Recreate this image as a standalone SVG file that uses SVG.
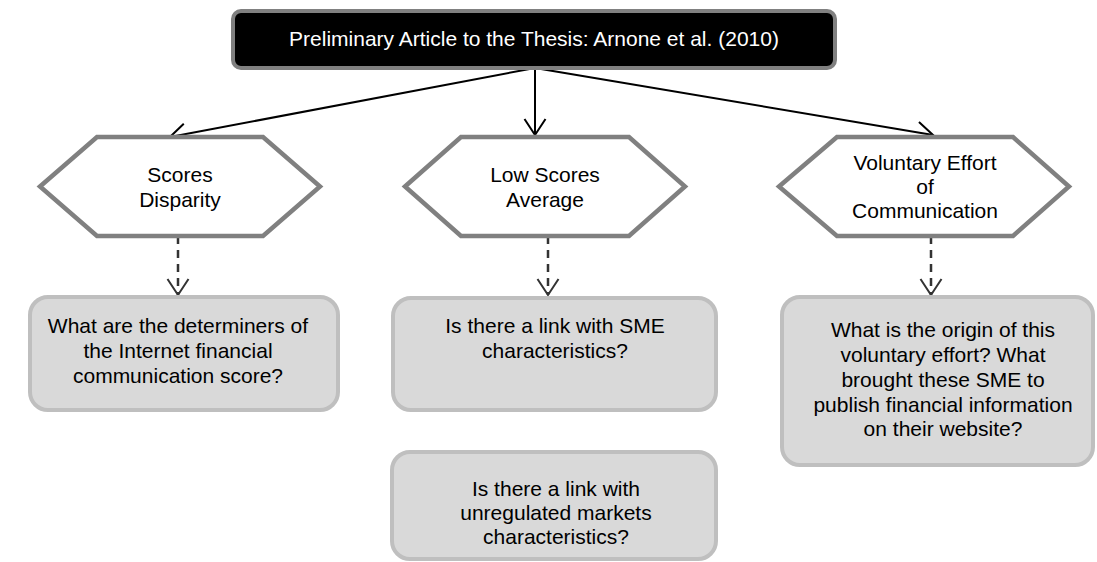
<svg xmlns="http://www.w3.org/2000/svg" width="1097" height="562" viewBox="0 0 1097 562">
<style>
text{font-family:"Liberation Sans",Arial,sans-serif;font-size:21px;text-anchor:middle;fill:#000}
.title{fill:#fff}
.hex{fill:#fff;stroke:#808080;stroke-width:4.5;stroke-linejoin:miter}
.box{fill:#d9d9d9;stroke:#bfbfbf;stroke-width:4}
.solid{fill:none;stroke:#000;stroke-width:2;marker-end:url(#open)}
.dash{fill:none;stroke:#333;stroke-width:2.5;stroke-dasharray:8,6;marker-end:url(#openD)}
</style>
<defs>
<marker id="open" markerUnits="userSpaceOnUse" markerWidth="24" markerHeight="26" viewBox="-20 -13 24 26" refX="0" refY="0" orient="auto">
<path d="M-16,-10.5 L0,0 L-16,10.5" fill="none" stroke="#000" stroke-width="2"/>
</marker>
<marker id="openD" markerUnits="userSpaceOnUse" markerWidth="24" markerHeight="26" viewBox="-20 -13 24 26" refX="0" refY="0" orient="auto">
<path d="M-16,-10.5 L0,0 L-16,10.5" fill="none" stroke="#333" stroke-width="2"/>
</marker>
</defs>
<g id="connectors">
<line class="solid" x1="535" y1="68" x2="170" y2="137"/>
<line class="solid" x1="535" y1="68" x2="535" y2="135"/>
<line class="solid" x1="535" y1="68" x2="933" y2="135"/>
<line class="dash" x1="178" y1="236" x2="178" y2="295"/>
<line class="dash" x1="548" y1="236" x2="548" y2="295"/>
<line class="dash" x1="931" y1="236" x2="931" y2="295"/>
</g>
<g id="title">
<rect x="233" y="11" width="602" height="57" rx="8" fill="#000" stroke="#808080" stroke-width="4"/>
<text class="title" x="534" y="46">Preliminary Article to the Thesis: Arnone et al. (2010)</text>
</g>
<g id="hex-scores">
<polygon class="hex" points="40,186.5 97,137 263,137 320,186.5 263,236 97,236"/>
<text x="180" y="182">Scores</text>
<text x="180" y="207">Disparity</text>
</g>
<g id="hex-low">
<polygon class="hex" points="405,186.5 461,137 629,137 685,186.5 629,236 461,236"/>
<text x="545" y="182">Low Scores</text>
<text x="545" y="207">Average</text>
</g>
<g id="hex-voluntary">
<polygon class="hex" points="779,186.5 837,137 1013,137 1069,186.5 1013,236 837,236"/>
<text x="925" y="170">Voluntary Effort</text>
<text x="925" y="194">of</text>
<text x="925" y="218">Communication</text>
</g>
<g id="box-determiners">
<rect class="box" x="30" y="297" width="308" height="113" rx="18"/>
<text x="178" y="333">What are the determiners of</text>
<text x="178" y="358">the Internet financial</text>
<text x="178" y="383">communication score?</text>
</g>
<g id="box-sme">
<rect class="box" x="393" y="298" width="323" height="112" rx="18"/>
<text x="555" y="333">Is there a link with SME</text>
<text x="555" y="358">characteristics?</text>
</g>
<g id="box-markets">
<rect class="box" x="392" y="452" width="324" height="107" rx="18"/>
<text x="556" y="496">Is there a link with</text>
<text x="556" y="520">unregulated markets</text>
<text x="556" y="544">characteristics?</text>
</g>
<g id="box-origin">
<rect class="box" x="782" y="297" width="311" height="168" rx="18"/>
<text x="943" y="337">What is the origin of this</text>
<text x="943" y="362">voluntary effort? What</text>
<text x="943" y="387">brought these SME to</text>
<text x="943" y="412">publish financial information</text>
<text x="943" y="436">on their website?</text>
</g>
</svg>
